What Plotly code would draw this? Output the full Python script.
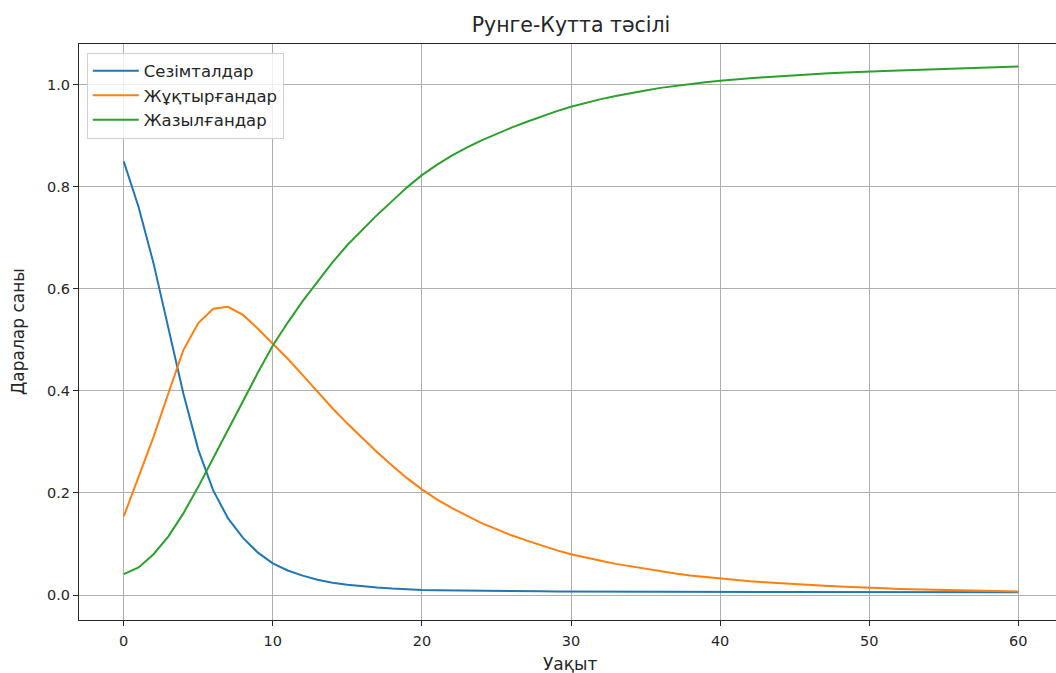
import plotly.graph_objects as go

t = list(range(61))

susceptible = [0.85, 0.76, 0.65, 0.525, 0.395, 0.285, 0.205, 0.150, 0.112, 0.083,
               0.062, 0.048, 0.038, 0.030, 0.024, 0.020, 0.017, 0.0145, 0.0125, 0.011,
               0.010, 0.0095, 0.009, 0.0087, 0.0083, 0.008, 0.0077, 0.0074, 0.0072, 0.007,
               0.0068, 0.0066, 0.0065, 0.0064, 0.0063, 0.0062, 0.0061, 0.006, 0.006, 0.0059,
               0.0059, 0.0058, 0.0058, 0.0057, 0.0057, 0.0057, 0.0056, 0.0056, 0.0056, 0.0056,
               0.0055, 0.0055, 0.0055, 0.0055, 0.0055, 0.0055, 0.0054, 0.0054, 0.0054, 0.0054,
               0.0054]

infected = [0.154, 0.232, 0.31, 0.396, 0.48, 0.533, 0.561, 0.565, 0.549, 0.522,
            0.493, 0.463, 0.431, 0.398, 0.366, 0.336, 0.307, 0.280, 0.254, 0.229,
            0.207, 0.1875, 0.1706, 0.155, 0.141, 0.129, 0.117, 0.107, 0.097, 0.088,
            0.080, 0.073, 0.067, 0.061, 0.056, 0.051, 0.046, 0.042, 0.038, 0.035,
            0.032, 0.029, 0.027, 0.025, 0.023, 0.021, 0.0195, 0.018, 0.0165, 0.015,
            0.014, 0.013, 0.012, 0.0112, 0.0104, 0.0097, 0.009, 0.0084, 0.0078, 0.0073,
            0.0068]

recovered = [0.041, 0.054, 0.080, 0.115, 0.160, 0.212, 0.268, 0.325, 0.381, 0.436,
             0.489, 0.534, 0.576, 0.615, 0.652, 0.686, 0.716, 0.745, 0.772, 0.799,
             0.823, 0.843, 0.861, 0.877, 0.891, 0.904, 0.916, 0.927, 0.938, 0.948,
             0.957, 0.965, 0.972, 0.978, 0.984, 0.989, 0.994, 0.998, 1.002, 1.005,
             1.008, 1.011, 1.013, 1.015, 1.017, 1.019, 1.0205, 1.022, 1.0235, 1.025,
             1.026, 1.027, 1.028, 1.029, 1.030, 1.031, 1.032, 1.033, 1.034, 1.035,
             1.036]

names = ["Сезімталдар", "Жұқтырғандар", "Жазылғандар"]
colors = ["#1f77b4", "#ff7f0e", "#2ca02c"]
series = [susceptible, infected, recovered]

x_ticks = [0, 10, 20, 30, 40, 50, 60]
y_ticks = [0.0, 0.2, 0.4, 0.6, 0.8, 1.0]
y_tick_text = ["0.0", "0.2", "0.4", "0.6", "0.8", "1.0"]

fig = go.Figure()
for name, col, ys in zip(names, colors, series):
    fig.add_trace(go.Scatter(x=t, y=ys, mode="lines", name=name,
                             line=dict(color=col, width=2)))

W, H = 1056, 673
L, R, T, B = 79, 0, 44, 53

fig.update_layout(
    width=W, height=H,
    margin=dict(l=L, r=R, t=T, b=B),
    paper_bgcolor="white", plot_bgcolor="white",
    font=dict(family="DejaVu Sans", size=14.5, color="#262626"),
    showlegend=True,
    legend=dict(x=0.008, y=0.985, xanchor="left", yanchor="top",
                bordercolor="#d0d0d0", borderwidth=1, bgcolor="rgba(255,255,255,0.8)",
                font=dict(size=16.5, color="#262626"), itemwidth=46,
                tracegroupgap=0),
    title=dict(text="Рунге-Кутта тәсілі", x=571 / W, xanchor="center",
               y=1 - 25 / H, yanchor="middle", font=dict(size=20.5, color="#262626")),
    xaxis=dict(range=[-3, 62.53], tickvals=x_ticks, ticktext=[str(v) for v in x_ticks],
               showgrid=True, gridcolor="#b0b0b0", gridwidth=1, zeroline=False,
               showline=True, linecolor="#262626", linewidth=1, mirror=True,
               ticks="outside", ticklen=5, tickcolor="#262626", tickwidth=1,
               ticklabelstandoff=3),
    yaxis=dict(range=[-0.049, 1.080], tickvals=y_ticks, ticktext=y_tick_text,
               showgrid=True, gridcolor="#b0b0b0", gridwidth=1, zeroline=False,
               showline=True, linecolor="#262626", linewidth=1, mirror=False,
               ticks="outside", ticklen=5, tickcolor="#262626", tickwidth=1),
    annotations=[
        dict(text="Уақыт", xref="paper", yref="paper",
             x=(570 - L) / (W - L - R), y=-(664 - (H - B)) / (H - T - B),
             xanchor="center", yanchor="middle", showarrow=False,
             font=dict(size=17, color="#262626")),
        dict(text="Даралар саны", xref="paper", yref="paper",
             x=-(L - 18) / (W - L - R), y=0.5, textangle=-90,
             xanchor="center", yanchor="middle", showarrow=False,
             font=dict(size=17, color="#262626")),
    ],
)

fig.write_html("out.html", config={"displayModeBar": False},
               post_script="document.body.style.margin='0';document.body.style.overflow='hidden';")
